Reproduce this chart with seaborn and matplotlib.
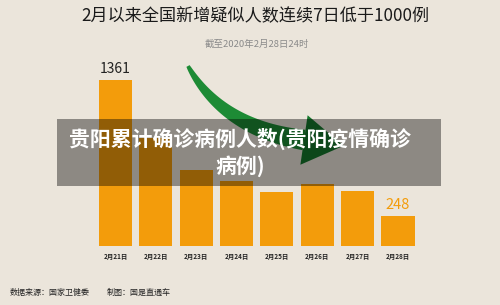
import numpy as np
import pandas as pd
import matplotlib
matplotlib.use("Agg")
import matplotlib.pyplot as plt
import seaborn as sns
from matplotlib.patches import Polygon, Rectangle

# ---------------------------------------------------------------- data
dates = ["2月21日", "2月22日", "2月23日", "2月24日",
         "2月25日", "2月26日", "2月27日", "2月28日"]
new_suspected = [1361, 882, 620, 530, 439, 508, 452, 248]

TITLE = "2月以来全国新增疑似人数连续7日低于1000例"
SUBTITLE = "截至2020年2月28日24时"
SOURCE = "数据来源：国家卫健委"
MAKER = "制图：国是直通车"
OVERLAY = "贵阳累计确诊病例人数(贵阳疫情确诊\n病例)"

BG = "#ebe5db"
ORANGE = "#f39c0b"

sns.set_theme(style="white")
plt.rcParams["font.family"] = ["Noto Sans CJK SC", "DejaVu Sans"]

W, H = 500, 305
fig = plt.figure(figsize=(W / 100, H / 100), dpi=100, facecolor=BG)


def fx(px):
    return px / W


def fy(py):
    return 1 - py / H


# axes placed so bar centres land on the reference pixels
ax = fig.add_axes([fx(95.3), fy(246), fx(418.2) - fx(95.3), fy(63) - fy(246)])
ax.set_facecolor(BG)

df = pd.DataFrame({"date": dates, "count": new_suspected})
sns.barplot(data=df, x="date", y="count", color=ORANGE, saturation=1,
            width=0.82, edgecolor="none", linewidth=0, ax=ax)
ax.set_xlim(-0.5, len(dates) - 0.5)
ax.set_ylim(0, 1500)
ax.set_xlabel("")
ax.set_ylabel("")
ax.set_yticks([])
sns.despine(ax=ax, left=True, bottom=True)
ax.tick_params(axis="x", length=0, pad=5)
for lab in ax.get_xticklabels():
    lab.set_fontsize(4.6)
    lab.set_fontweight("bold")
    lab.set_color("#222222")

# value labels on first and last bar
ax.annotate(f"{new_suspected[0]}", (0, new_suspected[0]), xytext=(0, 3),
            textcoords="offset points", ha="center", va="bottom",
            fontsize=10, color="#222222")
ax.annotate(f"{new_suspected[-1]}", (len(dates) - 1, new_suspected[-1]),
            xytext=(0, 3), textcoords="offset points", ha="center",
            va="bottom", fontsize=10.5, color=ORANGE)

# titles
fig.text(fx(255), fy(16), TITLE, ha="center", va="center",
         fontsize=12.3, color="#1a1a1a", fontweight="medium")
fig.text(fx(257), fy(44), SUBTITLE, ha="center", va="center",
         fontsize=6.8, color="#8a8a8a")
fig.text(fx(10), fy(292), SOURCE, ha="left", va="center",
         fontsize=5.8, color="#222222")
fig.text(fx(107), fy(292), MAKER, ha="left", va="center",
         fontsize=5.8, color="#222222")

# green tapered curved arrow (pixel space, y down)
p0, p1, p2 = np.array([188, 66]), np.array([222, 128]), np.array([304, 140])
t = np.linspace(0, 1, 60)[:, None]
curve = (1 - t) ** 2 * p0 + 2 * (1 - t) * t * p1 + t ** 2 * p2
deriv = 2 * (1 - t) * (p1 - p0) + 2 * t * (p2 - p1)
tang = deriv / np.linalg.norm(deriv, axis=1, keepdims=True)
norm = np.column_stack([-tang[:, 1], tang[:, 0]])
half = (1.8 + 8.5 * t[:, 0] ** 0.8)[:, None]
body = np.vstack([curve + norm * half, (curve - norm * half)[::-1]])
end_t, end_n = tang[-1], norm[-1]
head = np.array([p2 + end_n * 25, p2 + end_t * 40, p2 - end_n * 25])


def to_fig(pts):
    return np.column_stack([pts[:, 0] / W, 1 - pts[:, 1] / H])


fig.add_artist(Polygon(to_fig(body), closed=True, transform=fig.transFigure,
                       facecolor="#1d8b35", lw=0, zorder=5))
fig.add_artist(Polygon(to_fig(head), closed=True, transform=fig.transFigure,
                       facecolor="#15772c", lw=0, zorder=5))

# semi-transparent caption band
fig.add_artist(Rectangle((fx(57), fy(186)), fx(441) - fx(57), fy(119) - fy(186),
                         transform=fig.transFigure, facecolor="black",
                         alpha=0.4, lw=0, zorder=8))
fig.text(fx(240), fy(152), OVERLAY, ha="center", va="center",
         fontsize=15, color="white", fontweight="bold",
         linespacing=1.3, zorder=9)

fig.savefig("out.png", dpi=100, facecolor=BG)
